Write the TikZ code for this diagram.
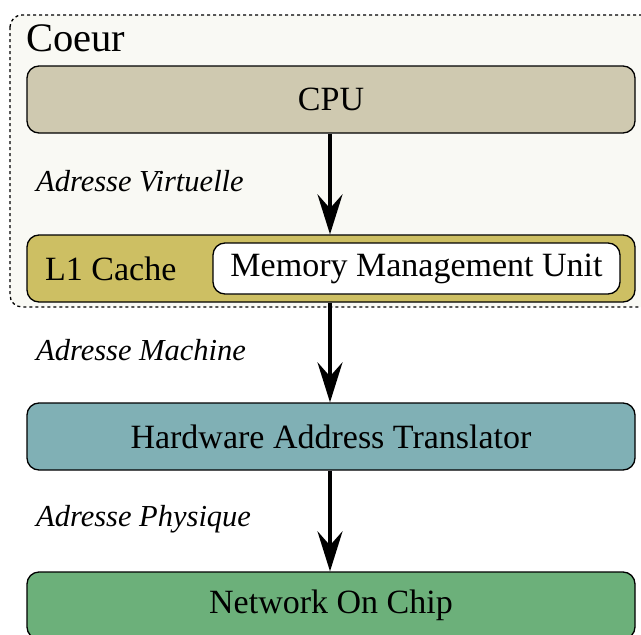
\documentclass[tikz,border=0pt]{standalone}
\usepackage{fontspec}
\setmainfont{Liberation Serif}
\usetikzlibrary{arrows.meta}
\definecolor{coeurbg}{RGB}{249,249,244}
\definecolor{cpucol}{RGB}{207,201,176}
\definecolor{l1col}{RGB}{205,191,99}
\definecolor{hatcol}{RGB}{128,176,181}
\definecolor{noccol}{RGB}{108,176,122}
\tikzset{
  blk/.style={draw=black, line width=1.3pt, rounded corners=12pt, minimum width=608pt, minimum height=67pt, inner sep=0pt, font=\fontsize{34}{40}\selectfont},
  lbl/.style={anchor=base west, inner sep=0pt, font=\fontsize{30.5}{36}\selectfont\itshape},
  flow/.style={-{Stealth[length=40pt,width=25pt,inset=14pt]}, line width=4pt},
}
\begin{document}
\begin{tikzpicture}[x=1pt,y=-1pt]
\useasboundingbox (0,0) rectangle (641,635);
\begin{scope}
\clip (0,0) rectangle (641,635);
\draw[fill=coeurbg, line width=1.3pt, dash pattern=on 3pt off 3pt, rounded corners=12pt] (10,15) rectangle (660,307);
\node[anchor=base west, inner sep=0pt, font=\fontsize{40.5}{46}\selectfont] (coeur) at (26,51) {Coeur};
\node[blk, fill=cpucol] (cpu) at (331,99.5) {CPU};
\node[blk, fill=l1col] (l1) at (331,268.5) {};
\node[anchor=west, inner sep=0pt, font=\fontsize{34}{40}\selectfont] (l1t) at (45,268.5) {L1 Cache};
\node[draw=black, line width=1.3pt, fill=white, rounded corners=12pt, minimum width=407pt, minimum height=51pt, inner sep=0pt, font=\fontsize{34}{40}\selectfont] (mmu) at (416.5,268.5) {Memory Management Unit};
\node[blk, fill=hatcol] (hat) at (331,436.5) {Hardware Address Translator};
\node[blk, fill=noccol] (noc) at (331,605.5) {Network On Chip};
\node[lbl] (av) at (36,191) {Adresse Virtuelle};
\node[lbl] (am) at (36,360) {Adresse Machine};
\node[lbl] (ap) at (36,526) {Adresse Physique};
\draw[flow] (cpu.south) ++(-1,0) coordinate (c1) -- (c1 |- l1.north);
\draw[flow] (l1.south) ++(-1,0) coordinate (c2) -- (c2 |- hat.north);
\draw[flow] (hat.south) ++(-1,0) coordinate (c3) -- (c3 |- noc.north);
\end{scope}
\end{tikzpicture}
\end{document}
